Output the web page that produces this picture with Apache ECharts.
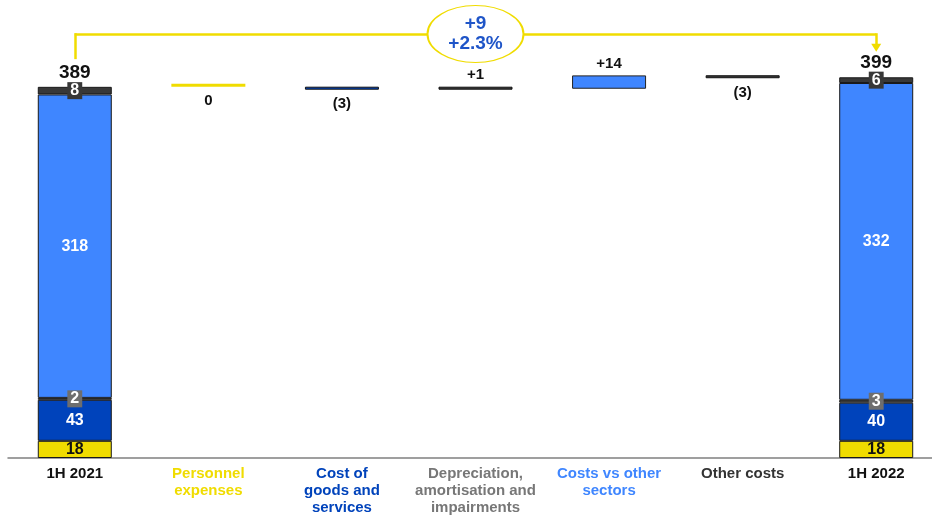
<!DOCTYPE html>
<html>
<head>
<meta charset="utf-8">
<style>
  html, body { margin: 0; padding: 0; background: #ffffff; overflow: hidden; }
  #chart { width: 943px; height: 518px; }
</style>
<script src="https://cdn.jsdelivr.net/npm/echarts@6/dist/echarts.min.js"></script>
</head>
<body>
<div id="chart"></div>
<script>
// Cost bridge 1H 2021 -> 1H 2022
const categories = [
  '1H 2021',
  'Personnel\nexpenses',
  'Cost of\ngoods and\nservices',
  'Depreciation,\namortisation and\nimpairments',
  'Costs vs other\nsectors',
  'Other costs',
  '1H 2022'
];

// Composition of the two period totals [1H 2021, 1H 2022]
const personnelExp = [18, 18];
const goodsServices = [43, 40];
const depreciation = [2, 3];
const otherSectors = [318, 332];
const otherCosts = [8, 6];

// Bridge steps between the two totals
const changes = [0, -3, 1, 14, -3];
const changeLabels = ['0', '(3)', '+1', '+14', '(3)'];

// Headline change shown in the bubble
const headline = ['+9', '+2.3%'];

const YELLOW = '#f0dc00';
const DARK_BLUE = '#0043bb';
const LIGHT_BLUE = '#3f86ff';
const DARK = '#383838';
const GREY = '#6e6e6e';
const FONT = '"Liberation Sans", Arial, sans-serif';

const labelColors = ['#111111', YELLOW, DARK_BLUE, '#777777', LIGHT_BLUE, '#333333', '#111111'];
const stepStyles = [
  { color: YELLOW, borderWidth: 0 },
  { color: DARK_BLUE, borderColor: '#111', borderWidth: 1 },
  { color: DARK, borderColor: '#111', borderWidth: 1 },
  { color: LIGHT_BLUE, borderColor: '#222', borderWidth: 1 },
  { color: DARK, borderColor: '#111', borderWidth: 1 }
];

const n = categories.length;
const ends = (pair) => {
  const arr = new Array(n).fill('-');
  arr[0] = pair[0];
  arr[n - 1] = pair[1];
  return arr;
};
const totals = [0, 1].map(i =>
  personnelExp[i] + goodsServices[i] + depreciation[i] + otherSectors[i] + otherCosts[i]);

// Floating bars for the bridge
const baseData = new Array(n).fill('-');
const stepData = new Array(n).fill('-');
let running = totals[0];
changes.forEach((d, i) => {
  const next = running + d;
  baseData[i + 1] = Math.min(running, next);
  stepData[i + 1] = {
    value: Math.abs(d),
    itemStyle: stepStyles[i],
    label: {
      position: d > 0 ? 'top' : 'bottom',
      distance: d > 0 ? 4 : 7,
      formatter: changeLabels[i]
    }
  };
  running = next;
});

const totalLabelData = new Array(n).fill('-');
totalLabelData[0] = 0;
totalLabelData[n - 1] = 0;

const segLabel = (color, extra) => Object.assign({
  show: true,
  position: 'inside',
  color: color,
  fontFamily: FONT,
  fontWeight: 'bold',
  fontSize: 16
}, extra || {});

const segment = (name, data, color, label) => ({
  name: name,
  type: 'bar',
  stack: 'all',
  barWidth: 74,
  data: ends(data),
  itemStyle: { color: color, borderColor: '#1a1a1a', borderWidth: 1 },
  label: label
});

const chart = echarts.init(document.getElementById('chart'), null, { renderer: 'canvas' });

chart.setOption({
  animation: false,
  backgroundColor: '#ffffff',
  grid: { left: 8, right: 0, top: 0, bottom: 60 },
  xAxis: {
    type: 'category',
    data: categories,
    axisLine: { lineStyle: { color: '#808080', width: 1.5 } },
    axisTick: { show: false },
    axisLabel: {
      interval: 0,
      margin: 7,
      fontFamily: FONT,
      fontWeight: 'bold',
      fontSize: 15,
      lineHeight: 17,
      color: (v, i) => labelColors[i]
    }
  },
  yAxis: { type: 'value', min: 0, max: 480, show: false },
  series: [
    {
      name: 'base',
      type: 'bar',
      stack: 'all',
      barWidth: 74,
      data: baseData,
      itemStyle: { color: 'transparent' },
      silent: true
    },
    {
      name: 'step',
      type: 'bar',
      stack: 'all',
      barWidth: 74,
      barMinHeight: 3,
      data: stepData,
      label: {
        show: true,
        color: '#111',
        fontFamily: FONT,
        fontWeight: 'bold',
        fontSize: 15
      }
    },
    segment('Personnel expenses', personnelExp, YELLOW, segLabel('#111')),
    segment('Cost of goods and services', goodsServices, DARK_BLUE, segLabel('#ffffff')),
    segment('Depreciation, amortisation and impairments', depreciation, '#4a4a4a',
      segLabel('#ffffff', { backgroundColor: GREY, padding: [1, 3, 0, 3], lineHeight: 16 })),
    segment('Costs vs other sectors', otherSectors, LIGHT_BLUE, segLabel('#ffffff')),
    segment('Other costs', otherCosts, DARK,
      segLabel('#ffffff', { backgroundColor: DARK, padding: [1, 3, 0, 3], lineHeight: 16 })),
    {
      name: 'total',
      type: 'bar',
      stack: 'all',
      barWidth: 74,
      data: totalLabelData,
      itemStyle: { color: 'transparent' },
      label: {
        show: true,
        position: 'top',
        distance: 5,
        color: '#111',
        fontFamily: FONT,
        fontWeight: 'bold',
        fontSize: 19,
        formatter: (p) => String(p.dataIndex === 0 ? totals[0] : totals[1])
      }
    },
    {
      name: 'bracket',
      type: 'line',
      data: [],
      z: 3,
      markLine: {
        silent: true,
        animation: false,
        symbol: ['none', 'none'],
        label: { show: false },
        lineStyle: { color: YELLOW, width: 2.5, type: 'solid' },
        data: [
          [{ coord: [categories[0], 418] }, { coord: [categories[0], 445.2] }],
          [{ coord: [categories[0], 444.4] }, { coord: [categories[n - 1], 444.4] }],
          [{ coord: [categories[n - 1], 445.2] },
           { coord: [categories[n - 1], 430], symbol: 'triangle', symbolSize: [10, 8], symbolRotate: 180 }]
        ]
      }
    },
    {
      name: 'headline',
      type: 'scatter',
      z: 5,
      silent: true,
      symbol: 'circle',
      symbolSize: [96, 57],
      data: [[categories[3], 444.4]],
      itemStyle: { color: '#ffffff', borderColor: YELLOW, borderWidth: 1.5, opacity: 1 },
      label: {
        show: true,
        position: 'inside',
        formatter: headline.join('\n'),
        color: '#1f55c8',
        fontFamily: FONT,
        fontWeight: 'bold',
        fontSize: 19,
        lineHeight: 20
      }
    }
  ]
});
</script>
</body>
</html>
